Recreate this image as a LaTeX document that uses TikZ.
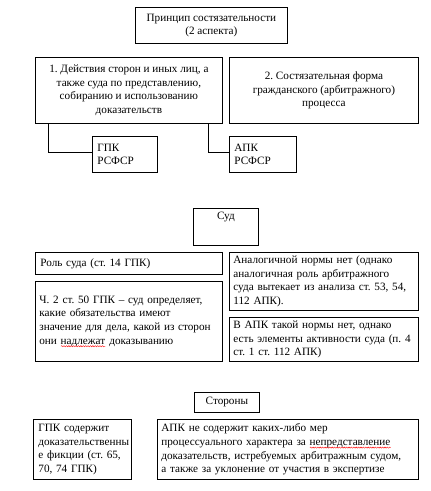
\documentclass[tikz,border=0pt]{standalone}
\usepackage{fontspec}
\usetikzlibrary{decorations.pathmorphing}
\setmainfont{Liberation Serif}
\newsavebox{\spellbox}
\newcommand{\spellwave}[1]{\sbox{\spellbox}{#1}\rlap{\usebox{\spellbox}}\raisebox{-3pt}{\tikz[x=1pt,y=1pt]\draw[red,line width=0.4pt,decorate,decoration={snake,amplitude=0.6pt,segment length=2.4pt}] (0,0)--(\wd\spellbox,0);}}
\begin{document}
\frenchspacing
\begin{tikzpicture}[x=1pt,y=-1pt,
  box/.style={draw, line width=0.8pt, inner sep=0pt, anchor=north west, font=\fontsize{11.2}{13.6}\selectfont},
  conn/.style={draw, line width=0.8pt}]
\useasboundingbox (0,0) rectangle (431,491);
\fill[white] (0,0) rectangle (431,491);
% top section
\node[box, minimum width=152, minimum height=36, align=center] (top) at (135,7) {Принцип состязательности\\(2 аспекта)};
\node[box, minimum width=187, minimum height=66, align=center] (a1) at (35,57) {1. Действия сторон и иных лиц, а\\также суда по представлению,\\собиранию и использованию\\доказательств};
\node[box, minimum width=189, minimum height=66, align=center] (a2) at (229,57) {2. Состязательная форма\\гражданского (арбитражного)\\процесса};
\node[box, minimum width=65, minimum height=36, text width=55, align=left] (gpk) at (92,136) {ГПК\\РСФСР};
\node[box, minimum width=67, minimum height=36, text width=57, align=left] (apk) at (229,136) {АПК\\РСФСР};
\coordinate (c1) at (48,152);
\coordinate (c2) at (208,152);
\draw[conn] (a1.south west -| c1) -- (c1) -- (gpk.west |- c1);
\draw[conn] (a1.south west -| c2) -- (c2) -- (apk.west |- c2);
% court section
\node[box, minimum width=65, minimum height=37, align=center] (sud) at (193,208) {Суд\\[9pt]\mbox{}};
\node[box, minimum width=187, minimum height=22, text width=177, align=left] (rol) at (35,252) {Роль суда (ст. 14 ГПК)};
\node[box, minimum width=187, minimum height=80, text width=179, align=left] (ch2) at (35,281) {Ч. 2 ст. 50 ГПК – суд определяет,\\какие обязательства имеют\\значение для дела, какой из сторон\\они \spellwave{надлежат} доказыванию};
\node[box, minimum width=189, minimum height=58, text width=181, align=left] (anal) at (229,252) {Аналогичной нормы нет (однако\\аналогичная роль арбитражного\\суда вытекает из анализа ст. 53, 54,\\112 АПК).};
\node[box, minimum width=189, minimum height=44, text width=181, align=left] (vapk) at (229,317) {В АПК такой нормы нет, однако\\есть элементы активности суда (п. 4\\ст. 1 ст. 112 АПК)};
% parties section
\node[box, minimum width=65, minimum height=20, align=center] (stor) at (194,392) {Стороны};
\node[box, minimum width=98, minimum height=60, text width=88, align=left] (gsod) at (33,419) {ГПК содержит\\доказательственны\\е фикции (ст. 65,\\70, 74 ГПК)};
\node[box, minimum width=261, minimum height=60, text width=253, align=left] (asod) at (157,419) {АПК не содержит каких-либо мер\\процессуального характера за \spellwave{непредставление}\\доказательств, истребуемых арбитражным судом,\\а также за уклонение от участия в экспертизе};
\end{tikzpicture}
\end{document}
